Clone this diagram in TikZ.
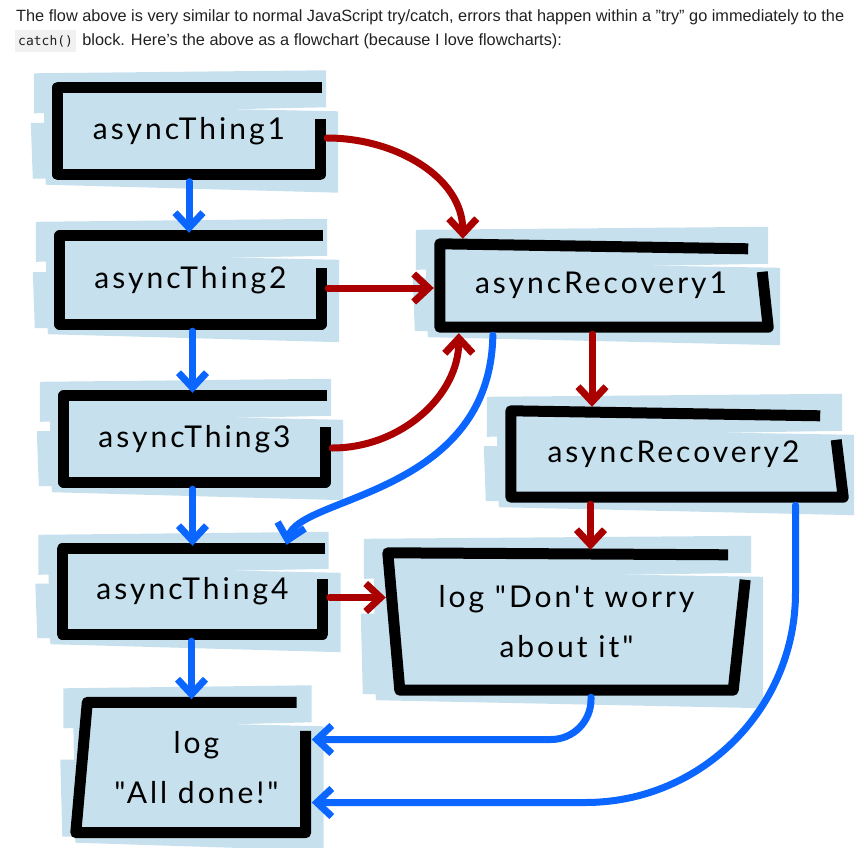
\documentclass[tikz,border=0pt]{standalone}
\usepackage{fontspec}
\setmainfont{Liberation Sans}
\newfontfamily\handfont[LetterSpace=10]{Lato}
\newfontfamily\codefont{DejaVu Sans Mono}
\usetikzlibrary{calc,positioning,arrows.meta,backgrounds}
\definecolor{tapeblue}{HTML}{C6E1ED}
\definecolor{okblue}{HTML}{0A66FF}
\definecolor{errred}{HTML}{AA0000}
\definecolor{inkgray}{HTML}{212121}
\definecolor{codegray}{HTML}{F1F1F1}
\tikzset{
  headline/.style={ % the two lines of prose above the chart
    inner sep=0pt, text=inkgray, font=\fontsize{16.3}{19}\selectfont
  },
  codechip/.style={ % inline code with a grey chip behind it
    fill=codegray, text=inkgray, inner xsep=3pt, inner ysep=0pt,
    minimum height=22pt, font=\codefont\fontsize{13}{15}\selectfont
  },
  stepnode/.style={ % text of a hand-drawn box
    inner sep=0pt, text=black, align=center,
    font=\handfont\fontsize{30}{50}\selectfont
  },
  tape/.style={fill=tapeblue},
  frame/.style={ % thick black marker outline
    draw=black, line width=11pt, line join=round, line cap=butt
  },
  okarrow/.style={
    draw=okblue, line width=7pt, line cap=round,
    -{Straight Barb[length=15pt,width=28pt]}
  },
  errarrow/.style={
    draw=errred, line width=7pt, line cap=round,
    -{Straight Barb[length=15pt,width=28pt]}
  }
}
% strips of blue tape behind a box
\newcommand{\tapes}[1]{%
  \fill[tape] ($(#1.north west)+(-24,14)$) -- ($(#1.north east)+(6,17)$)
    -- ($(#1.north east)+(6,-20)$) -- ($(#1.north west)+(-24,-26)$) -- cycle;
  \fill[tape] ($(#1.north west)+(-14,-18)$) -- ($(#1.north east)+(18,-24)$)
    -- ($(#1.south east)+(18,-18)$) -- ($(#1.south west)+(-12,-10)$) -- cycle;
  \fill[tape] ($(#1.west)+(-27,8)$) -- ($(#1.west)+(40,8)$)
    -- ($(#1.south west)+(40,-4)$) -- ($(#1.south west)+(-25,-4)$) -- cycle;
}
% outline: top edge, left, bottom, then a short right edge
\newcommand{\sketchframe}[6]{%
  \draw[frame] ($(#1.north east)+(#2,#3)$) -- (#1.north west)
    -- ($(#1.south west)+(#5,0)$) -- ($(#1.south east)+(#6,0)$)
    -- ($(#1.north east)+(0,-#4)$);
}
\begin{document}
\begin{tikzpicture}[x=1pt,y=1pt]
  \useasboundingbox (0,0) rectangle (867,-848);

  \node[headline,anchor=west] (intro1) at (16,-17)
    {The flow above is very similar to normal JavaScript try/catch, errors that happen within a "try" go immediately to the};
  \node[codechip,anchor=west] (code) at (15,-41) {catch()};
  \node[headline,right=6pt of code] (intro2)
    {block. Here's the above as a flowchart (because I love flowcharts):};

  \node[stepnode,minimum width=262pt,minimum height=87pt] (t1) at (189,-131) {asyncThing1};
  \node[stepnode,minimum width=261pt,minimum height=88pt] (t2) at (190.5,-280) {asyncThing2};
  \node[stepnode,minimum width=261pt,minimum height=86pt] (t3) at (194.5,-439) {asyncThing3};
  \node[stepnode,minimum width=260pt,minimum height=85pt] (t4) at (192.5,-591.5) {asyncThing4};
  \node[stepnode,minimum width=218pt,minimum height=130pt] (done) at (196.5,-767.5) {log\\"All done!"};
  \node[stepnode,minimum width=322pt,minimum height=83pt] (r1) at (601,-285.5) {asyncRecovery1};
  \node[stepnode,minimum width=325pt,minimum height=86pt] (r2) at (673.5,-454) {asyncRecovery2};
  \node[stepnode,minimum width=357pt,minimum height=137pt] (dw) at (566.5,-621.5) {log "Don't worry\\about it"};

  \begin{scope}[on background layer]
    \tapes{t1} \tapes{t2} \tapes{t3} \tapes{t4}
    \tapes{done} \tapes{r1} \tapes{r2} \tapes{dw}
  \end{scope}

  \sketchframe{t1}{2}{0}{31.5}{0}{0}
  \sketchframe{t2}{2}{0}{32}{0}{0}
  \sketchframe{t3}{2}{0}{31}{0}{0}
  \sketchframe{t4}{2.5}{0}{30}{0}{0}
  \sketchframe{done}{-9}{0}{28.5}{-11.5}{0}
  \sketchframe{r1}{-14}{-5}{28}{0}{6}
  \sketchframe{r2}{-16}{-5}{29}{0}{7}
  \sketchframe{dw}{-17}{-2}{27}{12}{-12}

  % the happy path
  \draw[okarrow,shorten <=7pt,shorten >=3pt] (t1.south) -- (t1.south |- t2.north);
  \draw[okarrow,shorten <=7pt,shorten >=3pt] ([xshift=2pt]t2.south) -- ([xshift=2pt]t2.south |- t3.north);
  \draw[okarrow,shorten <=7pt,shorten >=3pt] (t4.north |- t3.south) -- (t4.north);
  \draw[okarrow,shorten <=7pt,shorten >=3pt] ([xshift=-1pt]t4.south) -- ([xshift=-1pt]t4.south |- done.north);

  % errors go to the recovery steps
  \draw[errarrow,shorten >=5pt] ([shift={(7pt,-7pt)}]t1.east)
    to[out=0,in=90] ([xshift=23pt]r1.north west);
  \coordinate (t2out) at ([shift={(7pt,-8pt)}]t2.east);
  \draw[errarrow,shorten >=6pt] (t2out) -- (t2out -| r1.west);
  \draw[errarrow,shorten >=6pt] ([shift={(7pt,-9pt)}]t3.east)
    to[out=0,in=-90] ([xshift=19pt]r1.south west);
  \draw[errarrow,shorten <=7pt,shorten >=4pt] ([xshift=-9pt]r1.south) -- ([xshift=-9pt]r1.south |- r2.north);
  \draw[errarrow,shorten <=7pt,shorten >=3pt] ([xshift=-83pt]r2.south) -- ([xshift=-83pt]r2.south |- dw.north);
  \coordinate (t4out) at ([shift={(7pt,-6pt)}]t4.east);
  \draw[errarrow,shorten >=2pt] (t4out) -- (t4out -| dw.west);

  % recovered, back on the happy path
  \draw[okarrow,shorten <=8pt,shorten >=4pt] ([xshift=-108pt]r1.south)
    .. controls +(-3,-169) and +(12.5,53) .. ([xshift=-37pt]t4.north east);
  \draw[okarrow,rounded corners=40pt,shorten <=7pt,shorten >=6pt] ([xshift=24.5pt]dw.south)
    |- ([yshift=28pt]done.east);
  \draw[okarrow,rounded corners=210pt,shorten <=8pt,shorten >=6pt] ([xshift=122pt]r2.south)
    |- ([yshift=-35pt]done.east);
\end{tikzpicture}
\end{document}
